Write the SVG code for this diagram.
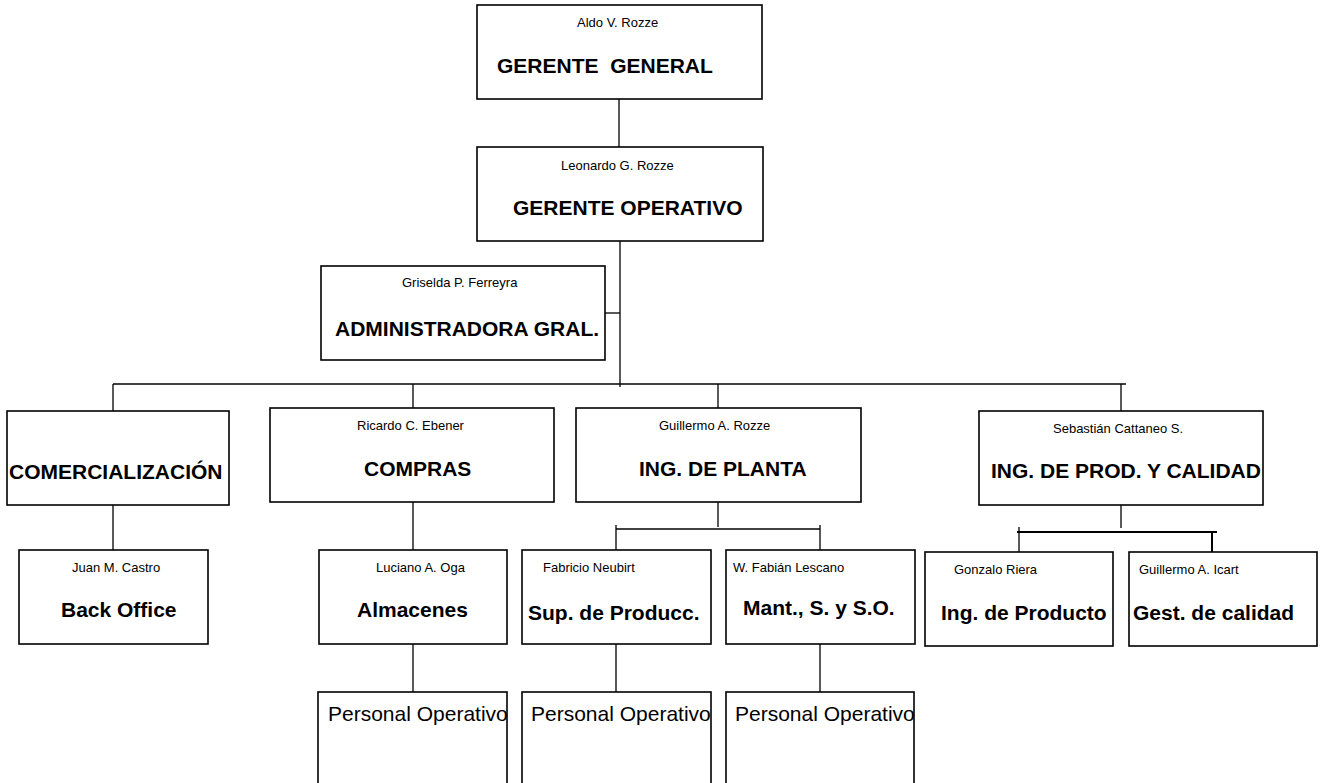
<svg xmlns="http://www.w3.org/2000/svg" width="1320" height="783" viewBox="0 0 1320 783">
<style>
rect.b{fill:#fff;stroke:#000;stroke-width:1.6}
.c line{stroke:#000;stroke-width:1.3}
.c line.t{stroke-width:2}
text{font-family:"Liberation Sans",Arial,sans-serif;fill:#000}
.n{font-size:13px}
.h{font-size:21px;font-weight:bold;white-space:pre}
.p{font-size:21px}
</style>
<rect width="1320" height="783" fill="#fff"/>
<g class="c" id="connectors">
<line x1="619" y1="99" x2="619" y2="147"/>
<line x1="620" y1="241" x2="620" y2="387"/>
<line x1="605" y1="313" x2="620" y2="313"/>
<line x1="113" y1="384" x2="1126" y2="384"/>
<line x1="113" y1="384" x2="113" y2="411"/>
<line x1="413" y1="384" x2="413" y2="408"/>
<line x1="718" y1="384" x2="718" y2="408"/>
<line x1="1121" y1="384" x2="1121" y2="411"/>
<line x1="113" y1="505" x2="113" y2="550"/>
<line x1="413" y1="502" x2="413" y2="550"/>
<line x1="718" y1="502" x2="718" y2="527"/>
<line x1="616" y1="529" x2="820" y2="529"/>
<line x1="616" y1="525" x2="616" y2="550"/>
<line x1="820" y1="525" x2="820" y2="550"/>
<line x1="1121" y1="505" x2="1121" y2="528"/>
<line class="t" x1="1017" y1="532" x2="1217" y2="532"/>
<line x1="1019" y1="527" x2="1019" y2="552"/>
<line class="t" x1="1212" y1="532" x2="1212" y2="555"/>
<line x1="413" y1="644" x2="413" y2="692"/>
<line x1="616" y1="644" x2="616" y2="692"/>
<line x1="820" y1="644" x2="820" y2="692"/>
</g>
<g id="gerente-general"><rect class="b" x="477" y="5" width="285" height="94"/>
<text class="n" x="577" y="27">Aldo V. Rozze</text>
<text class="h" x="497" y="73" xml:space="preserve">GERENTE  GENERAL</text></g>
<g id="gerente-operativo"><rect class="b" x="477" y="147" width="286" height="94"/>
<text class="n" x="561" y="170">Leonardo G. Rozze</text>
<text class="h" x="513" y="215">GERENTE OPERATIVO</text></g>
<g id="administradora"><rect class="b" x="321" y="266" width="284" height="94"/>
<text class="n" x="402" y="287">Griselda P. Ferreyra</text>
<text class="h" x="335" y="336">ADMINISTRADORA GRAL.</text></g>
<g id="comercializacion"><rect class="b" x="7" y="411" width="222" height="94"/>
<text class="h" x="9" y="479">COMERCIALIZACIÓN</text></g>
<g id="compras"><rect class="b" x="270" y="408" width="284" height="94"/>
<text class="n" x="357" y="430">Ricardo C. Ebener</text>
<text class="h" x="364" y="476">COMPRAS</text></g>
<g id="ing-planta"><rect class="b" x="576" y="408" width="285" height="94"/>
<text class="n" x="659" y="430">Guillermo A. Rozze</text>
<text class="h" x="639" y="476">ING. DE PLANTA</text></g>
<g id="ing-prod-calidad"><rect class="b" x="979" y="411" width="284" height="94"/>
<text class="n" x="1053" y="433">Sebastián Cattaneo S.</text>
<text class="h" x="991" y="478">ING. DE PROD. Y CALIDAD</text></g>
<g id="back-office"><rect class="b" x="19" y="550" width="189" height="94"/>
<text class="n" x="72" y="572">Juan M. Castro</text>
<text class="h" x="61" y="617">Back Office</text></g>
<g id="almacenes"><rect class="b" x="319" y="550" width="188" height="94"/>
<text class="n" x="376" y="572">Luciano A. Oga</text>
<text class="h" x="357" y="617">Almacenes</text></g>
<g id="sup-produccion"><rect class="b" x="522" y="550" width="189" height="94"/>
<text class="n" x="543" y="572">Fabricio Neubirt</text>
<text class="h" x="528" y="620">Sup. de Producc.</text></g>
<g id="mantenimiento"><rect class="b" x="726" y="550" width="189" height="94"/>
<text class="n" x="733" y="572">W. Fabián Lescano</text>
<text class="h" x="743" y="615">Mant., S. y S.O.</text></g>
<g id="ing-producto"><rect class="b" x="925" y="552" width="188" height="94"/>
<text class="n" x="954" y="574">Gonzalo Riera</text>
<text class="h" x="941" y="620">Ing. de Producto</text></g>
<g id="gest-calidad"><rect class="b" x="1129" y="552" width="188" height="94"/>
<text class="n" x="1139" y="574">Guillermo A. Icart</text>
<text class="h" x="1133" y="620">Gest. de calidad</text></g>
<g id="personal-1"><rect class="b" x="318" y="692" width="189" height="110"/>
<text class="p" x="328" y="721">Personal Operativo</text></g>
<g id="personal-2"><rect class="b" x="522" y="692" width="189" height="110"/>
<text class="p" x="531" y="721">Personal Operativo</text></g>
<g id="personal-3"><rect class="b" x="726" y="692" width="188" height="110"/>
<text class="p" x="735" y="721">Personal Operativo</text></g>
</svg>
